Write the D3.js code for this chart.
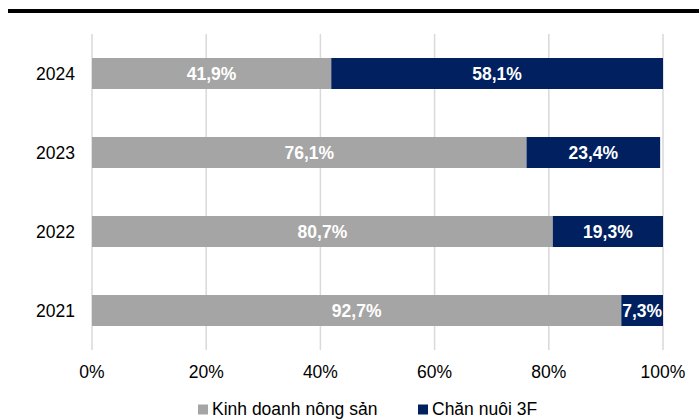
<!DOCTYPE html>
<html>
<head>
<meta charset="utf-8">
<script src="https://cdn.jsdelivr.net/npm/d3@7"></script>
<style>
  html, body { margin: 0; padding: 0; background: #fff; }
  svg { display: block; font-family: Arial, "Liberation Sans", sans-serif; }
</style>
</head>
<body>
<svg id="chart" width="699" height="419"></svg>
<script>
const years = ["2024", "2023", "2022", "2021"];
const seriesNames = ["Kinh doanh nông sản", "Chăn nuôi 3F"];
const agri = [41.9, 76.1, 80.7, 92.7];
const farm = [58.1, 23.4, 19.3, 7.3];
const ticks = [0, 20, 40, 60, 80, 100];
const colors = ["#A5A5A5", "#002060"];

const svg = d3.select("#chart");
const fmt = v => d3.format(".1f")(v).replace(".", ",") + "%";

// top rule
svg.append("rect").attr("x", 8).attr("y", 9).attr("width", 691).attr("height", 4).attr("fill", "#000");

const x = d3.scaleLinear().domain([0, 100]).range([92, 663]);
const y = d3.scaleBand().domain(years).range([34, 350]).paddingInner(0.6076).paddingOuter(0.3038);

// gridlines
svg.append("g").selectAll("line").data(ticks).join("line")
  .attr("x1", d => x(d)).attr("x2", d => x(d))
  .attr("y1", 34).attr("y2", 350)
  .attr("stroke", "#D9D9D9").attr("stroke-width", 1.5);

// x tick labels
svg.append("g").selectAll("text").data(ticks).join("text")
  .attr("x", d => x(d)).attr("y", 378)
  .attr("text-anchor", "middle")
  .attr("font-size", "17.5px").attr("fill", "#000")
  .text(d => d + "%");

// y labels
svg.append("g").selectAll("text").data(years).join("text")
  .attr("x", 75).attr("y", d => y(d) + y.bandwidth() / 2)
  .attr("dy", "0.36em")
  .attr("text-anchor", "end")
  .attr("font-size", "17.5px").attr("fill", "#000")
  .text(d => d);

// bars
const rows = years.map((yr, i) => ({ yr, vals: [agri[i], farm[i]] }));
rows.forEach(r => {
  let start = 0;
  r.vals.forEach((v, j) => {
    const x0 = x(start), x1 = x(start + v);
    svg.append("rect")
      .attr("x", x0).attr("y", y(r.yr))
      .attr("width", x1 - x0).attr("height", y.bandwidth())
      .attr("fill", colors[j]);
    svg.append("text")
      .attr("x", (x0 + x1) / 2).attr("y", y(r.yr) + y.bandwidth() / 2)
      .attr("dy", "0.36em").attr("text-anchor", "middle")
      .attr("font-size", "17.5px").attr("font-weight", "bold").attr("fill", "#fff")
      .text(fmt(v));
    start += v;
  });
});

// legend
const legendX = [198, 418];
seriesNames.forEach((name, i) => {
  svg.append("rect").attr("x", legendX[i]).attr("y", 404.5).attr("width", 10).attr("height", 10).attr("fill", colors[i]);
  svg.append("text").attr("x", legendX[i] + 14).attr("y", 414.5)
    .attr("font-size", "17.5px").attr("fill", "#000").text(name);
});
</script>
</body>
</html>
